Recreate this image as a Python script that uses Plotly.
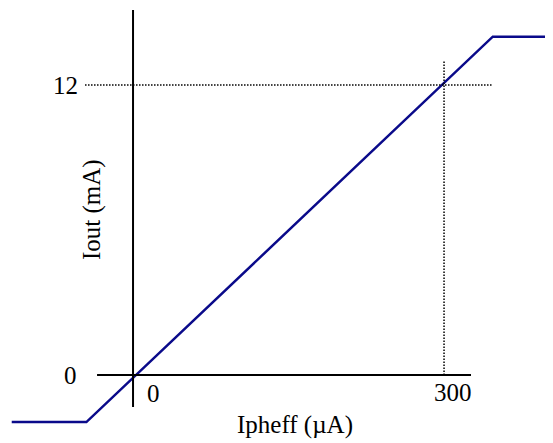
import plotly.graph_objects as go

# Transfer characteristic: Iout (mA) vs Ipheff (µA)
ipheff = [-117, -45, 347, 410]
iout = [-1.95, -1.95, 14.0, 14.0]

x_ticks = [0, 300]
x_tick_labels = ["0", "300"]
y_ticks = [0, 12]
y_tick_labels = ["0", "12"]

x_title = "Ipheff (µA)"
y_title = "Iout (mA)"

FONT = "Liberation Serif, Times New Roman, serif"
FS = 25

fig = go.Figure()
fig.add_trace(go.Scatter(x=ipheff, y=iout, mode="lines",
                         line=dict(color="#0a0a8a", width=2.5),
                         hoverinfo="skip", showlegend=False))

shapes = []
# axes
shapes.append(dict(type="line", xref="x", yref="y", x0=0, x1=0, y0=-1.32, y1=15.1,
                   line=dict(color="black", width=2)))
shapes.append(dict(type="line", xref="x", yref="y", x0=-34.7, x1=326, y0=0, y1=0,
                   line=dict(color="black", width=2)))
# dotted guides at the non-zero ticks
shapes.append(dict(type="line", xref="x", yref="y", x0=-46.3, x1=346, y0=y_ticks[1], y1=y_ticks[1],
                   line=dict(color="black", width=1.5, dash="1.5px,1.5px")))
shapes.append(dict(type="line", xref="x", yref="y", x0=x_ticks[1], x1=x_ticks[1], y0=0, y1=13.0,
                   line=dict(color="black", width=1.5, dash="1.5px,1.5px")))

annotations = []
y_label_x = [-60.8, -65.6]
for v, lab, lx in zip(y_ticks, y_tick_labels, y_label_x):
    annotations.append(dict(x=lx, y=v, xref="x", yref="y", text=lab, showarrow=False,
                            xanchor="center", yanchor="middle",
                            font=dict(family=FONT, size=FS, color="black")))
annotations.append(dict(x=19.3, y=-0.75, xref="x", yref="y", text=x_tick_labels[0], showarrow=False,
                        xanchor="center", yanchor="middle", font=dict(family=FONT, size=FS, color="black")))
annotations.append(dict(x=308.7, y=-0.72, xref="x", yref="y", text=x_tick_labels[1], showarrow=False,
                        xanchor="center", yanchor="middle", font=dict(family=FONT, size=FS, color="black")))
annotations.append(dict(x=156.3, y=-2.05, xref="x", yref="y", text=x_title, showarrow=False,
                        xanchor="center", yanchor="middle", font=dict(family=FONT, size=FS, color="black")))
annotations.append(dict(x=-39.5, y=6.83, xref="x", yref="y", text=y_title, showarrow=False, textangle=-90,
                        xanchor="center", yanchor="middle", font=dict(family=FONT, size=FS, color="black")))

# the page body has an 8px margin, so the figure is 8px smaller and its ranges start 8px in
fig.update_layout(
    width=545, height=435,
    margin=dict(l=0, r=0, t=0, b=0),
    paper_bgcolor="white", plot_bgcolor="white",
    xaxis=dict(range=[-120.6, 405.1], visible=False, fixedrange=True),
    yaxis=dict(range=[-2.814, 15.186], visible=False, fixedrange=True),
    shapes=shapes, annotations=annotations,
    showlegend=False,
)

fig.write_html("out.html")
